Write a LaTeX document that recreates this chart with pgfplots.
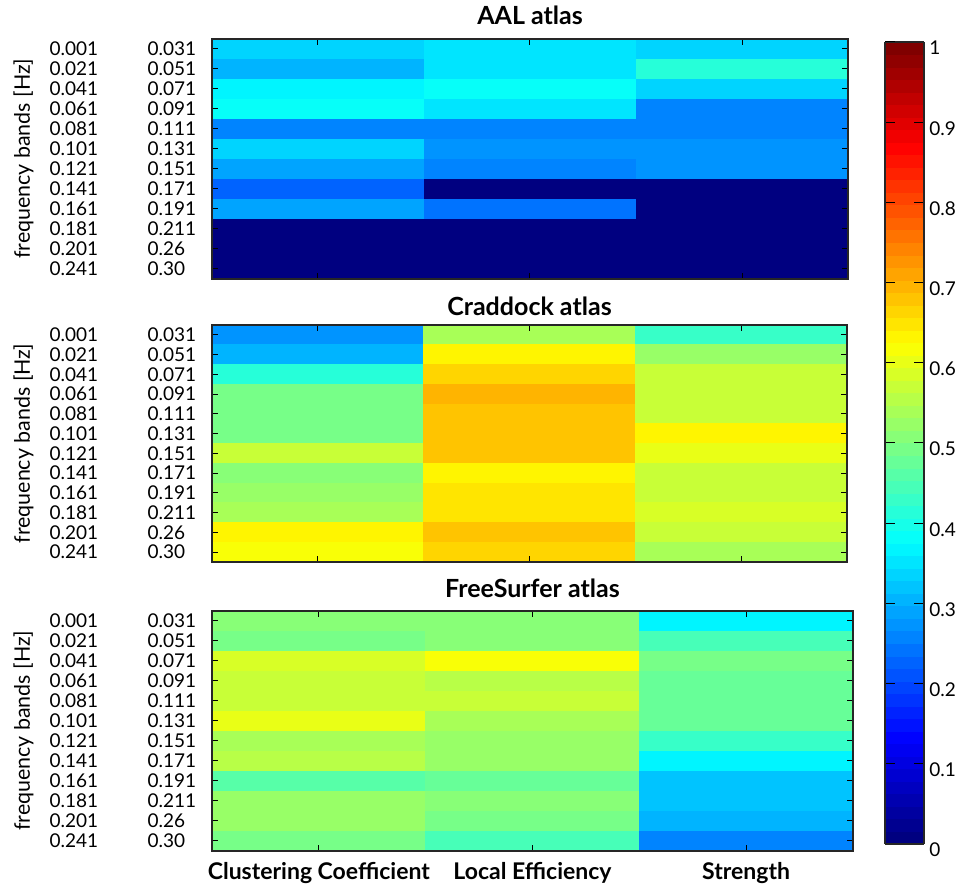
\documentclass[border=0pt]{standalone}
\usepackage{pgfplots}
\pgfplotsset{compat=1.18}
\usepackage{pgfplotstable}
\usepackage{fontspec}
\setmainfont{Lato}

% two-column band labels: lower and upper edge of each frequency band
\newcommand{\band}[2]{\makebox[49pt][l]{#1}\makebox[24.5pt][l]{#2}}

% 64-step jet colormap shared by all panels and the colour bar
\pgfplotsset{colormap/jet}
\pgfplotsset{colormap={jetsixtyfour}{samples of colormap=(64 of jet)}}

% AAL atlas: columns 1 = clustering coefficient, 2 = local efficiency, 3 = strength
\pgfplotstableread{
x y c
1 1 0.34
2 1 0.355
3 1 0.34
1 2 0.31
2 2 0.355
3 2 0.41
1 3 0.36
2 3 0.38
3 3 0.34
1 4 0.375
2 4 0.355
3 4 0.26
1 5 0.26
2 5 0.25
3 5 0.26
1 6 0.33
2 6 0.28
3 6 0.27
1 7 0.29
2 7 0.25
3 7 0.27
1 8 0.225
2 8 0
3 8 0
1 9 0.29
2 9 0.235
3 9 0
1 10 0
2 10 0
3 10 0
1 11 0
2 11 0
3 11 0
1 12 0
2 12 0
3 12 0
}\aal

% Craddock atlas
\pgfplotstableread{
x y c
1 1 0.27
2 1 0.54
3 1 0.435
1 2 0.30
2 2 0.63
3 2 0.53
1 3 0.41
2 3 0.67
3 3 0.575
1 4 0.49
2 4 0.70
3 4 0.575
1 5 0.49
2 5 0.68
3 5 0.575
1 6 0.49
2 6 0.68
3 6 0.64
1 7 0.57
2 7 0.68
3 7 0.60
1 8 0.50
2 8 0.63
3 8 0.565
1 9 0.53
2 9 0.645
3 9 0.565
1 10 0.54
2 10 0.645
3 10 0.585
1 11 0.625
2 11 0.68
3 11 0.565
1 12 0.62
2 12 0.665
3 12 0.54
}\craddock

% FreeSurfer atlas
\pgfplotstableread{
x y c
1 1 0.50
2 1 0.50
3 1 0.36
1 2 0.49
2 2 0.50
3 2 0.45
1 3 0.59
2 3 0.61
3 3 0.49
1 4 0.57
2 4 0.555
3 4 0.48
1 5 0.57
2 5 0.57
3 5 0.48
1 6 0.595
2 6 0.54
3 6 0.48
1 7 0.54
2 7 0.53
3 7 0.43
1 8 0.555
2 8 0.52
3 8 0.36
1 9 0.465
2 9 0.475
3 9 0.32
1 10 0.53
2 10 0.51
3 10 0.32
1 11 0.52
2 11 0.485
3 11 0.30
1 12 0.485
2 12 0.44
3 12 0.26
}\freesurfer

\pgfplotsset{
  heat/.style={
    scale only axis,
    anchor=north west,
    xmin=0.5, xmax=3.5, ymin=0.5, ymax=12.5,
    y dir=reverse,
    colormap name=jetsixtyfour,
    colormap access=piecewise constant,
    point meta min=0, point meta max=1,
    xtick={1,2,3}, ytick={1,2,3,4,5,6,7,8,9,10,11,12},
    xticklabels={},
    yticklabels={\band{0.001}{0.031},\band{0.021}{0.051},\band{0.041}{0.071},
      \band{0.061}{0.091},\band{0.081}{0.111},\band{0.101}{0.131},
      \band{0.121}{0.151},\band{0.141}{0.171},\band{0.161}{0.191},
      \band{0.181}{0.211},\band{0.201}{0.26},\band{0.241}{0.30}},
    tick align=inside, xtick pos=both, ytick pos=both,
    major tick length=3pt,
    tick style={black, line width=0.5pt},
    axis line style={black!85, line width=0.6pt},
    yticklabel style={font=\fontsize{9.5}{11}\selectfont, inner sep=0pt, xshift=-7.5pt},
    ylabel={frequency bands [Hz]},
    ylabel style={at={([xshift=-91pt]axis description cs:0,0.5)}, anchor=base,
      font=\fontsize{10.7}{12}\selectfont, inner sep=0pt},
    every axis title shift=0pt,
    title style={at={(axis description cs:0.5,1)}, anchor=base, inner sep=0pt,
      font=\bfseries\fontsize{12.5}{14}\selectfont},
  },
}

\begin{document}
\begin{tikzpicture}
\path[use as bounding box] (0,0) rectangle (480pt,-443pt);

\begin{axis}[heat, at={(106pt,-19.5pt)}, width=318pt, height=120pt,
  title={AAL atlas}, title style={yshift=7pt},
  colorbar,
  colorbar style={
    at={(1.0582,0.9875)}, anchor=north west,
    scale only axis, width=19.5pt, height=401pt,
    ytick={0,0.1,0.2,0.3,0.4,0.5,0.6,0.7,0.8,0.9,1},
    ytick pos=both, yticklabel pos=right,
    tick align=inside, major tick length=5pt,
    tick style={black, line width=0.5pt},
    axis line style={black!85, line width=0.6pt},
    /pgf/number format/assume math mode=true,
    yticklabel style={font=\fontsize{9.5}{11}\selectfont, inner sep=0pt,
      xshift=2.5pt, yshift=-3pt},
  }]
\addplot [matrix plot, mesh/cols=3, point meta=explicit]
  table [x=x, y=y, meta=c] {\aal};
\end{axis}

\begin{axis}[heat, at={(106pt,-162.5pt)}, width=317.5pt, height=118.5pt,
  title={Craddock atlas}, title style={yshift=4.5pt}]
\addplot [matrix plot, mesh/cols=3, point meta=explicit]
  table [x=x, y=y, meta=c] {\craddock};
\end{axis}

\begin{axis}[heat, at={(106pt,-305.5pt)}, width=320.5pt, height=120pt,
  title={FreeSurfer atlas}, title style={yshift=6.5pt},
  xticklabels={Clustering Coefficient, Local Efficiency, Strength},
  xticklabel style={font=\bfseries\fontsize{11.5}{13}\selectfont, anchor=base,
    inner sep=0pt, yshift=-14.5pt}]
\addplot [matrix plot, mesh/cols=3, point meta=explicit]
  table [x=x, y=y, meta=c] {\freesurfer};
\end{axis}
\end{tikzpicture}
\end{document}
